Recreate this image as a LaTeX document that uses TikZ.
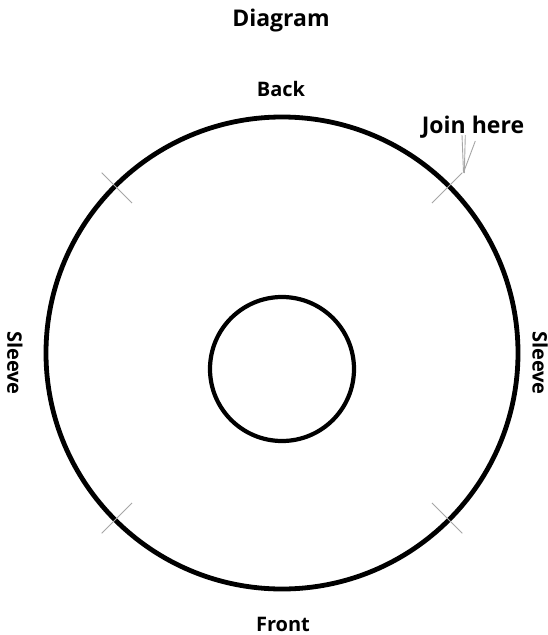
\documentclass[tikz,border=0pt]{standalone}
\usepackage{fontspec}
\setmainfont{Open Sans}[BoldFont={* Bold}]
\usepackage{tikz}
\usetikzlibrary{calc}

\begin{document}
\begin{tikzpicture}[x=1pt,y=-1pt,
  lbl/.style={font=\bfseries\fontsize{20}{24}\selectfont, inner sep=0pt},
  thinline/.style={gray!70, line width=0.9pt}]
\useasboundingbox (0,0) rectangle (548,635);
% circles
\draw[line width=4.8pt] (282,353) circle (236);
\draw[line width=4.2pt] (282,369) circle (72);
% seam marks
\foreach \a in {45,135,225,315}
  \draw[thinline] ($(282,353)+(\a:212)$) -- ($(282,353)+(\a:255)$);
% labels
\node[lbl, font=\bfseries\fontsize{23}{27}\selectfont] (title) at (281,21) {Diagram};
\node[lbl] (back) at (281,89) {Back};
\node[lbl] (front) at (283,624) {Front};
\node[lbl, rotate=-90] (sleeveL) at (15,363) {Sleeve};
\node[lbl, rotate=-90] (sleeveR) at (540,363) {Sleeve};
\node[lbl, font=\bfseries\fontsize{23}{27}\selectfont] (join) at (473,127) {Join here};
% pointer
\coordinate (seam) at (463.5,172.5);
\draw[thinline] (462,135) -- (seam);
\draw[thinline] (465.3,135) -- (464.3,173);
\draw[thinline] (475.3,141) -- (seam);
\end{tikzpicture}
\end{document}
